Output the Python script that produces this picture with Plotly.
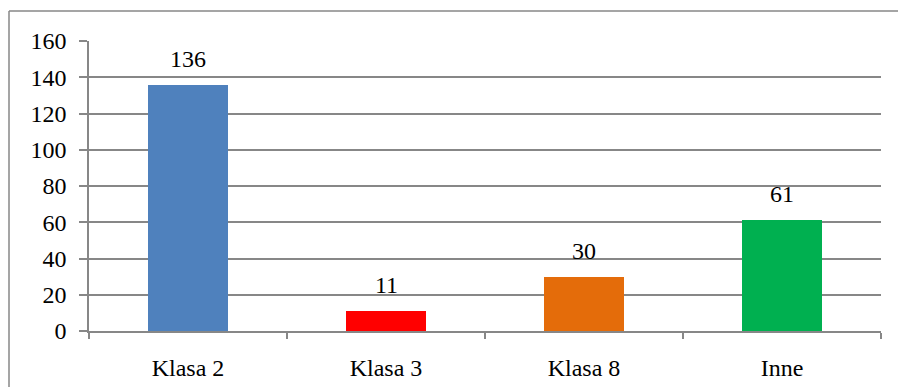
import plotly.graph_objects as go

categories = ["Klasa 2", "Klasa 3", "Klasa 8", "Inne"]
values = [136, 11, 30, 61]
colors = ["#4F81BD", "#FF0000", "#E46C0A", "#00B050"]
y_ticks = [0, 20, 40, 60, 80, 100, 120, 140, 160]

FONT = "Liberation Serif"
FS = 24
GRID = "#878787"

fig = go.Figure()
fig.add_trace(go.Bar(
    x=categories, y=values, marker=dict(color=colors, line=dict(width=0)),
    width=0.404, hoverinfo="x+y",
))

for c, v in zip(categories, values):
    fig.add_annotation(x=c, y=v, text=str(v), showarrow=False,
                       yanchor="bottom", yshift=11,
                       font=dict(family=FONT, size=FS, color="#000000"))

bx0 = (9 - 89) / 792
by1 = (331 - 11) / 290
fig.update_layout(
    width=898, height=387,
    margin=dict(l=89, r=17, t=41, b=56, autoexpand=False),
    paper_bgcolor="white", plot_bgcolor="white",
    showlegend=False,
    font=dict(family=FONT, size=FS, color="#000000"),
    bargap=0,
    xaxis=dict(
        type="category", showgrid=False, showline=True, linecolor=GRID, linewidth=1.5,
        ticks="outside", tickson="boundaries", ticklen=6, tickcolor=GRID, tickwidth=1.5,
        ticklabelstandoff=14, tickfont=dict(family=FONT, size=FS, color="#000000"),
        zeroline=False, automargin=False,
    ),
    yaxis=dict(
        range=[0, 160], tickvals=y_ticks, showgrid=True, gridcolor=GRID, gridwidth=1.5,
        showline=True, linecolor=GRID, linewidth=1.5, ticks="outside", ticklen=8,
        tickcolor=GRID, tickwidth=1.5, ticklabelstandoff=8, zeroline=False,
        tickfont=dict(family=FONT, size=FS, color="#000000"), automargin=False,
    ),
    shapes=[
        dict(type="line", xref="paper", yref="paper", x0=bx0, x1=1.03, y0=by1, y1=by1,
             line=dict(color=GRID, width=1.5), layer="below"),
        dict(type="line", xref="paper", yref="paper", x0=bx0, x1=bx0, y0=-0.2, y1=by1,
             line=dict(color=GRID, width=1.5), layer="below"),
    ],
)

fig.write_html("out.html", config={"displayModeBar": False},
               post_script="document.documentElement.style.overflow='hidden';document.body.style.overflow='hidden';document.body.style.margin='0';")
